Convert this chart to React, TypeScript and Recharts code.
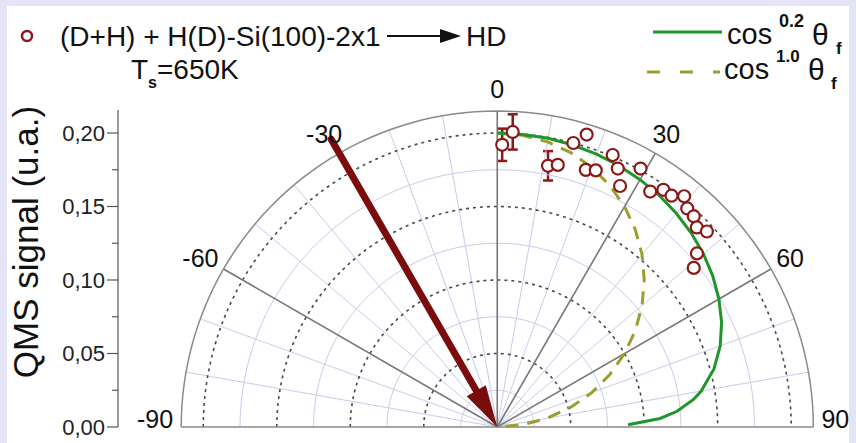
import React from "react";
import { ScatterChart, Scatter, XAxis, YAxis, ErrorBar, ReferenceLine } from "recharts";

// HD angular distribution, theta_f in degrees and QMS signal
const hdAngles = [1, 3, 11, 13, 15, 17, 19, 21, 23, 25, 27, 29, 33, 35, 37, 39, 41, 43, 45, 47, 49, 51];
const hdSignal = [0.192, 0.201, 0.181, 0.183, 0.2, 0.208, 0.185, 0.187, 0.201, 0.194, 0.184, 0.201, 0.191, 0.197, 0.197, 0.202, 0.197, 0.196, 0.192, 0.195, 0.18, 0.172];

// points carrying error bars
const errAngles = [1, 3, 11];
const errSignal = [0.192, 0.201, 0.181];
const errSize = [0.011, 0.012, 0.01];

// cos^0.2 fit
const fit02Angles = [0, 5, 10, 15, 20, 25, 30, 35, 40, 45, 50, 55, 60, 65, 70, 75, 80, 82, 85, 87, 89];
const fit02Values = [0.2, 0.1998, 0.1994, 0.1986, 0.1975, 0.1961, 0.1943, 0.1922, 0.1896, 0.1866, 0.1831, 0.179, 0.1741, 0.1684, 0.1614, 0.1526, 0.1409, 0.1348, 0.1228, 0.1109, 0.089];

// cos^1.0 curve
const fit10Angles = [0, 5, 10, 15, 20, 25, 30, 35, 40, 45, 50, 55, 60, 65, 70, 75, 80, 85, 90];
const fit10Values = [0.2, 0.1992, 0.197, 0.1932, 0.1879, 0.1813, 0.1732, 0.1638, 0.1532, 0.1414, 0.1286, 0.1147, 0.1, 0.0845, 0.0684, 0.0518, 0.0347, 0.0174, 0];

// incident beam
const beamAngle = -30;
const beamStart = 0.226;

const angleLabels = [-90, -60, -30, 0, 30, 60, 90];
const mainSpokes = [-60, -30, 0, 30, 60];
const lightSpokes = [-80, -70, -50, -40, -20, -10, 10, 20, 40, 50, 70, 80];
const dottedRings = [0.05, 0.1, 0.15, 0.2];
const lightRings = [0.025, 0.075, 0.125, 0.175];
const outerRing = 0.215;
const yTicks = [0, 0.025, 0.05, 0.075, 0.1, 0.125, 0.15, 0.175, 0.2];

const W = 856;
const H = 443;
const PX = 1470; // px per signal unit, same on both axes
const X_MIN = -0.258;
const X_MAX = 0.236;
const Y_MAX = 0.245;
const LEFT = 118;
const BOTTOM = 16;
const Y_AXIS_W = 60;

const RED = "#8c1818";
const BEAM = "#7a0c0c";
const GREEN = "#1e962a";
const OLIVE = "#9d9d2e";
const LIGHT = "#c9cbeb";
const FONT = "'Liberation Sans', Arial, sans-serif";

const toXY = (deg: number, r: number) => {
  const a = (deg * Math.PI) / 180;
  return { x: r * Math.sin(a), y: r * Math.cos(a) };
};
const ring = (r: number) => {
  const pts = [];
  for (let d = -90; d <= 90; d += 2) pts.push(toXY(d, r));
  return pts;
};
const spoke = (deg: number) => [toXY(deg, 0), toXY(deg, outerRing)];

const hdData = hdAngles.map((a, i) => toXY(a, hdSignal[i]));
const errData = errAngles.map((a, i) => ({ ...toXY(a, errSignal[i]), err: errSize[i] }));
const fit02Data = fit02Angles.map((a, i) => toXY(a, fit02Values[i]));
const fit10Data = fit10Angles.map((a, i) => toXY(a, fit10Values[i]));
const beamShaft = [toXY(beamAngle, beamStart), toXY(beamAngle, 0.022)];
const beamTip = [{ ...toXY(beamAngle, 0), angle: beamAngle }];
const labelData = angleLabels.map((a) => ({ ...toXY(a, 0.23), angle: a }));

const noDot = () => <g />;

const OpenCircle = (p: any) => (
  <circle cx={p.cx} cy={p.cy} r={6} fill="#fff" stroke={RED} strokeWidth={2.2} />
);

const ArrowHead = (p: any) => (
  <polygon
    points="0,0 -42,-11 -42,11"
    fill={BEAM}
    transform={`translate(${p.cx},${p.cy}) rotate(${90 + p.payload.angle})`}
  />
);

const AngleLabel = (p: any) => {
  const a = p.payload.angle;
  return (
    <text
      x={a < 0 ? p.cx + 14 : p.cx}
      y={Math.abs(a) === 90 ? p.cy - 8 : p.cy}
      textAnchor={a < 0 ? "end" : "middle"}
      dominantBaseline="central"
      fontSize={25}
      fontFamily={FONT}
      fill="#111"
    >
      {a}
    </text>
  );
};

const YTick = (p: any) => {
  const v = p.payload.value;
  const major = Math.round(v * 1000) % 50 === 0;
  return (
    <g>
      <line x1={p.x - (major ? 11 : 6)} x2={p.x} y1={p.y} y2={p.y} stroke="#555" strokeWidth={1.2} />
      {major && (
        <text x={p.x - 13} y={p.y} textAnchor="end" dominantBaseline="central" fontSize={22} fontFamily={FONT} fill="#222">
          {v.toFixed(2).replace(".", ",")}
        </text>
      )}
    </g>
  );
};

export default function App() {
  const plotW = (X_MAX - X_MIN) * PX;
  const plotH = Y_MAX * PX;
  const margin = {
    top: H - BOTTOM - plotH,
    right: W - LEFT - plotW,
    bottom: BOTTOM,
    left: LEFT - Y_AXIS_W,
  };

  return (
    <div style={{ position: "absolute", left: 0, top: 0, width: W, height: H, background: "#e4e4f6", overflow: "hidden" }}>
      <div style={{ position: "absolute", left: 7, top: 6, width: 842, height: H - 6, background: "#fff" }} />
      <div style={{ position: "absolute", left: 0, top: 0 }}>
        <ScatterChart width={W} height={H} margin={margin}>
          <XAxis type="number" dataKey="x" domain={[X_MIN, X_MAX]} hide />
          <YAxis
            type="number"
            dataKey="y"
            domain={[0, Y_MAX]}
            ticks={yTicks}
            interval={0}
            width={Y_AXIS_W}
            axisLine={false}
            tickLine={false}
            tickSize={0}
            tickMargin={0}
            tick={YTick}
          />
          {lightRings.map((r) => (
            <Scatter key={"lr" + r} data={ring(r)} line={{ stroke: LIGHT, strokeWidth: 1 }} shape={noDot} isAnimationActive={false} />
          ))}
          {lightSpokes.map((a) => (
            <Scatter key={"ls" + a} data={spoke(a)} line={{ stroke: LIGHT, strokeWidth: 1 }} shape={noDot} isAnimationActive={false} />
          ))}
          {dottedRings.map((r) => (
            <Scatter key={"dr" + r} data={ring(r)} line={{ stroke: "#4a4a4a", strokeWidth: 1.6, strokeDasharray: "3 4" }} shape={noDot} isAnimationActive={false} />
          ))}
          {mainSpokes.map((a) => (
            <Scatter key={"ms" + a} data={spoke(a)} line={{ stroke: "#777", strokeWidth: 1.6 }} shape={noDot} isAnimationActive={false} />
          ))}
          <Scatter data={ring(outerRing)} line={{ stroke: "#8a8a8a", strokeWidth: 1.5 }} shape={noDot} isAnimationActive={false} />
          <Scatter data={[toXY(-90, outerRing), toXY(90, outerRing)]} line={{ stroke: "#8a8a8a", strokeWidth: 1.5 }} shape={noDot} isAnimationActive={false} />
          <ReferenceLine segment={[{ x: X_MIN, y: 0 }, { x: X_MIN, y: 0.2157 }]} stroke="#555" strokeWidth={1.2} ifOverflow="visible" />

          <Scatter data={fit10Data} line={{ stroke: OLIVE, strokeWidth: 3, strokeDasharray: "13 9" }} shape={noDot} isAnimationActive={false} />
          <Scatter data={fit02Data} line={{ stroke: GREEN, strokeWidth: 3 }} shape={noDot} isAnimationActive={false} />

          <Scatter data={errData} shape={noDot} isAnimationActive={false}>
            <ErrorBar dataKey="err" direction="y" width={5} stroke={RED} strokeWidth={2.5} />
          </Scatter>
          <Scatter data={hdData} shape={OpenCircle} isAnimationActive={false} />

          <Scatter data={beamShaft} line={{ stroke: BEAM, strokeWidth: 7, strokeLinecap: "round" }} shape={noDot} isAnimationActive={false} />
          <Scatter data={beamTip} shape={ArrowHead} isAnimationActive={false} />

          <Scatter data={labelData} shape={AngleLabel} isAnimationActive={false} />
        </ScatterChart>
      </div>

      <svg width={W} height={H} style={{ position: "absolute", left: 0, top: 0, pointerEvents: "none" }} fontFamily={FONT}>
        <text transform="translate(38,242) rotate(-90)" textAnchor="middle" fontSize={35} fill="#111">
          QMS signal (u.a.)
        </text>

        <circle cx={27} cy={36} r={5} fill="#fff" stroke={RED} strokeWidth={2.5} />
        <text x={60} y={46} fontSize={28} fill="#111">(D+H) + H(D)-Si(100)-2x1</text>
        <line x1={387} x2={444} y1={36} y2={36} stroke="#111" strokeWidth={2} />
        <polygon points="440,29 461,36 440,43" fill="#111" />
        <text x={466} y={46} fontSize={28} fill="#111">HD</text>
        <text x={131} y={79} fontSize={28} fill="#111">
          T<tspan fontSize={16} fontWeight="bold" dy={9}>s</tspan>
          <tspan dy={-9}>=650K</tspan>
        </text>

        <line x1={653} x2={722} y1={32} y2={32} stroke={GREEN} strokeWidth={3} />
        <text x={727} y={44} fontSize={29} fill="#111">cos</text>
        <text x={779} y={27} fontSize={18} fontWeight="bold" fill="#111">0.2</text>
        <text x={812} y={45} fontSize={30} fill="#111">θ</text>
        <text x={836} y={54} fontSize={17} fontWeight="bold" fill="#111">f</text>

        <line x1={647} x2={720} y1={72} y2={72} stroke={OLIVE} strokeWidth={3} strokeDasharray="13 20" />
        <text x={724} y={79} fontSize={29} fill="#111">cos</text>
        <text x={776} y={62} fontSize={17} fontWeight="bold" fill="#111">1.0</text>
        <text x={808} y={80} fontSize={30} fill="#111">θ</text>
        <text x={831} y={89} fontSize={17} fontWeight="bold" fill="#111">f</text>
      </svg>
    </div>
  );
}
